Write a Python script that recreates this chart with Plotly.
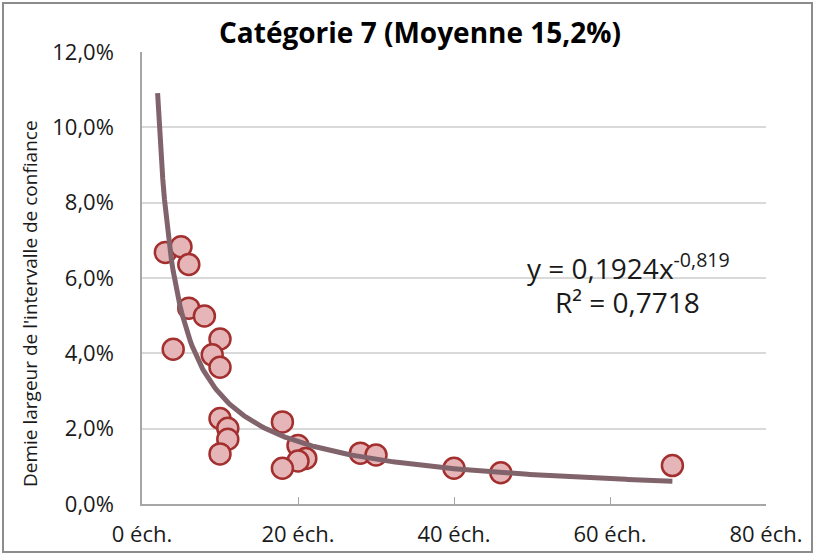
import plotly.graph_objects as go
import numpy as np

# Sample sizes (number of samples) and confidence-interval half widths
echantillons = [3, 5, 6, 6, 8, 4, 10, 9, 10, 10, 11, 11, 10,
                18, 20, 21, 20, 18, 28, 30, 40, 46, 68]
demi_largeur = [0.0668, 0.0683, 0.0636, 0.0520, 0.0499, 0.0411, 0.0438, 0.0396,
                0.0363, 0.0227, 0.0201, 0.0172, 0.0133,
                0.0218, 0.0155, 0.0121, 0.0114, 0.0095, 0.0135, 0.0130,
                0.0095, 0.0083, 0.0102]

# Power trendline y = a * x^b
coef_a = 0.1924
coef_b = -0.819
r2 = 0.7718
x_min, x_max = 2, 68

x_tend = np.linspace(x_min, x_max, 300)
y_tend = coef_a * x_tend ** coef_b

W, H = 816, 555
L, R, T, B = 142, 50, 52, 51
pw, ph = W - L - R, H - T - B

def px_x(p):
    return (p - L) / pw

def px_y(p):
    return (H - B - p) / ph

font_main = "'Open Sans', sans-serif"
txt = "#1a1a1a"

fig = go.Figure()

fig.add_trace(go.Scatter(
    x=echantillons, y=demi_largeur, mode="markers",
    marker=dict(size=21, color="#e6b5b8",
                line=dict(color="#a3302f", width=2.5)),
    showlegend=False, hoverinfo="skip"))

fig.add_trace(go.Scatter(
    x=x_tend, y=y_tend, mode="lines",
    line=dict(color="#80636b", width=5),
    showlegend=False, hoverinfo="skip"))

fig.update_layout(
    width=W, height=H,
    margin=dict(l=L, r=R, t=T, b=B, autoexpand=False),
    paper_bgcolor="white", plot_bgcolor="white",
    separators=", ",
    font=dict(family=font_main, color=txt, size=22),
    title=dict(text="<b>Catégorie 7 (Moyenne 15,2%)</b>",
               x=px_x(420), xref="paper", xanchor="center",
               y=1 - 33 / H, yanchor="middle",
               font=dict(size=28, color="#000000", family=font_main)),
    xaxis=dict(range=[0, 80], dtick=20, ticksuffix=" éch.",
               showgrid=False, zeroline=False, automargin=False,
               showline=True, linecolor="#a6a6a6", linewidth=1.5,
               ticks="inside", ticklen=7, tickcolor="#a6a6a6",
               ticklabelstandoff=10,
               tickfont=dict(size=22, color=txt)),
    yaxis=dict(range=[0, 0.12], dtick=0.02, tickformat=".1%",
               showgrid=True, gridcolor="#d9d9d9", gridwidth=1.5,
               zeroline=False, automargin=False,
               showline=True, linecolor="#a6a6a6", linewidth=1.5,
               ticks="", ticklabelstandoff=22,
               tickfont=dict(size=22, color=txt)),
)

fig.add_annotation(
    text="Demie largeur de l'intervalle de confiance",
    xref="paper", yref="paper", x=px_x(30), y=px_y(304),
    xanchor="center", yanchor="middle",
    textangle=-90, showarrow=False,
    font=dict(size=19, color=txt, family=font_main))

fig.add_annotation(
    text="y = 0,1924x<sup>-0,819</sup>",
    xref="paper", yref="paper", x=px_x(628), y=px_y(266),
    xanchor="center", yanchor="middle",
    showarrow=False, font=dict(size=28, color=txt, family=font_main))

fig.add_annotation(
    text="R² = 0,7718",
    xref="paper", yref="paper", x=px_x(627), y=px_y(302),
    xanchor="center", yanchor="middle",
    showarrow=False, font=dict(size=28, color=txt, family=font_main))

# Outer chart frame
fig.add_shape(type="rect", xref="paper", yref="paper",
              x0=px_x(3), x1=px_x(812), y0=px_y(552), y1=px_y(3),
              line=dict(color="#8c8c8c", width=2), layer="below")

fig.write_html("out.html")
